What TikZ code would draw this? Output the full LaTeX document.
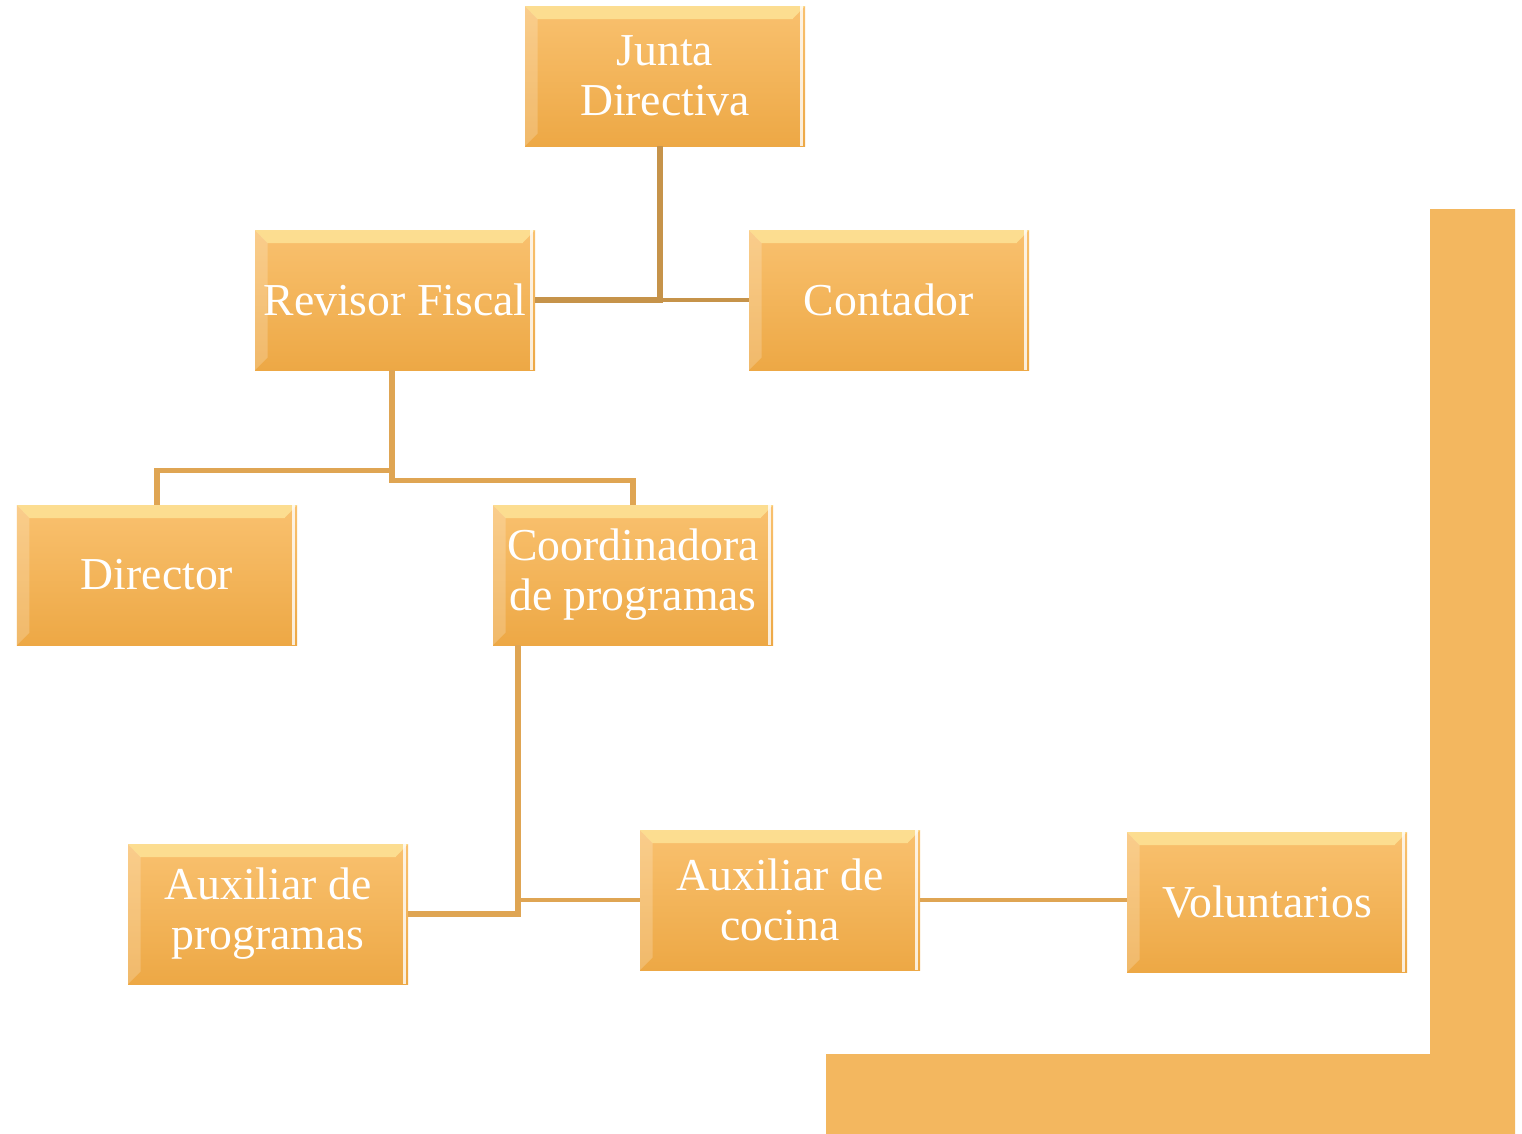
\documentclass[tikz,border=0pt]{standalone}
\usepackage{fontspec}
\setmainfont{Liberation Serif}
\usepackage{xcolor}

\definecolor{naranjaclaro}{HTML}{F9C16F}
\definecolor{naranjaoscuro}{HTML}{EDA845}
\definecolor{biselclaro}{HTML}{FFF1A8}
\definecolor{lineaoscura}{HTML}{C6934A}
\definecolor{lineaclara}{HTML}{DFA553}
\definecolor{marco}{HTML}{F3B75F}

\tikzset{
  puesto/.style={rectangle, minimum width=5.6cm, minimum height=2.8cm, inner sep=1pt,
    align=center, text=white, font=\fontsize{26}{28.5}\selectfont,
    top color=naranjaclaro, bottom color=naranjaoscuro,
    path picture={
      \fill [biselclaro,opacity=.6] (path picture bounding box.north west) -- (path picture bounding box.north east)
        -- ([shift={(-.25,-.26)}]path picture bounding box.north east) -- ([shift={(.25,-.26)}]path picture bounding box.north west) -- cycle ;
      \fill [white,opacity=.2] (path picture bounding box.north west) -- ([shift={(.25,-.26)}]path picture bounding box.north west)
        -- ([shift={(.25,.25)}]path picture bounding box.south west) -- (path picture bounding box.south west) -- cycle ;
      \fill [white,opacity=.8] ([xshift=-.1cm]path picture bounding box.north east) rectangle ([xshift=-.04cm]path picture bounding box.south east) ;
    }},
  enlace/.style={lineaoscura, line width=3.2pt},
  enlacefino/.style={lineaoscura, line width=2pt},
  rama/.style={lineaclara, line width=3.2pt},
  ramafina/.style={lineaclara, line width=2pt}
}

\begin{document}
\begin{tikzpicture}

\useasboundingbox (0,0) rectangle (30.44,-22.68) ;

%frame in the corner
\fill [marco] (28.6,-4.18) -- (30.3,-4.18) -- (30.3,-22.68) -- (16.52,-22.68) -- (16.52,-21.08) -- (28.6,-21.08) -- cycle ;

%boxes
\node [puesto] (junta) at (13.3,-1.52) {Junta\\Directiva} ;
\node [puesto] (revisor) at (7.9,-6.0) {Revisor Fiscal} ;
\node [puesto] (contador) at (17.78,-6.0) {Contador} ;
\node [puesto] (director) at (3.14,-11.5) {Director} ;
\node [puesto] (coord) at (12.66,-11.5) {Coordinadora\\de programas} ;
\node [puesto] (auxprog) at (5.36,-18.28) {Auxiliar de\\programas} ;
\node [puesto] (auxcocina) at (15.6,-18.0) {Auxiliar de\\cocina} ;
\node [puesto] (voluntarios) at (25.34,-18.04) {Voluntarios} ;

%lines from the board
\draw [enlace] ([xshift=-.1cm]junta.south) |- (revisor.east) ;
\draw [enlacefino] ([xshift=-.1cm]junta.south) |- (contador.west) ;

%lines from the fiscal reviewer
\draw [rama] ([xshift=-.06cm]revisor.south) -- ++(0,-2.0) -| (director.north) ;
\draw [rama] ([xshift=-.06cm]revisor.south) -- ++(0,-2.2) -| (coord.north) ;

%lines from the coordinator
\draw [rama] ([xshift=-2.3cm]coord.south) |- (auxprog.east) ;
\draw [ramafina] ([xshift=-2.3cm]coord.south) |- (auxcocina.west) ;
\draw [ramafina] (auxcocina.east) -- (auxcocina.east -| voluntarios.west) ;

\end{tikzpicture}
\end{document}
